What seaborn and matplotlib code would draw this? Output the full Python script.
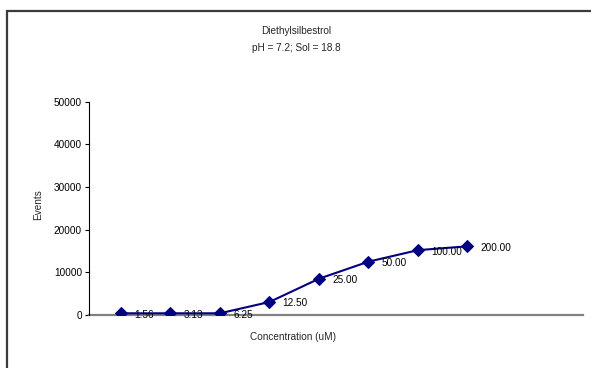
import numpy as np
import pandas as pd
import seaborn as sns
import matplotlib
matplotlib.use("Agg")
from matplotlib import pyplot as plt
from matplotlib.patches import Rectangle

# data
concentrations = ["1.56", "3.13", "6.25", "12.50", "25.00", "50.00", "100.00", "200.00"]
events = [400, 400, 400, 3050, 8500, 12500, 15200, 16100]
y_ticks = [0, 10000, 20000, 30000, 40000, 50000]

title_lines = ["Diethylsilbestrol", "pH = 7.2; Sol = 18.8"]
x_label = "Concentration (uM)"
y_label = "Events"

W, H = 591, 368
DPI = 100

sns.set_style("white")
plt.rcParams["font.family"] = ["Liberation Sans", "DejaVu Sans"]

df = pd.DataFrame({"pos": np.arange(len(concentrations)), "events": events,
                   "conc": concentrations})

fig = plt.figure(figsize=(W / DPI, H / DPI), dpi=DPI)
fig.patch.set_facecolor("white")


def px(x, y):
    # pixel coordinates (from top-left) -> figure fraction
    return x / W, 1 - y / H


left, top = px(89, 101.7)
right, bottom = px(582.7, 315)
ax = fig.add_axes([left, bottom, right - left, top - bottom])

sns.lineplot(
    data=df, x="pos", y="events", ax=ax,
    color="#000080", linewidth=1.5,
    marker="D", markersize=6.3, markeredgecolor="#000080",
)

for _, row in df.iterrows():
    ax.annotate(
        row["conc"], (row["pos"], row["events"]),
        xytext=(9.5, -1), textcoords="offset points",
        ha="left", va="center", fontsize=7.2, color="black",
    )

ax.set_xlim(-0.646, 9.33)
ax.set_ylim(0, 50000)
ax.set_yticks(y_ticks)
ax.set_yticklabels([str(t) for t in y_ticks], fontsize=7.2)
ax.set_xticks([])
ax.set_xlabel("")
ax.set_ylabel("")
ax.tick_params(axis="y", direction="out", length=3, width=0.8, pad=2,
               left=True, colors="black")

for s in ["top", "right"]:
    ax.spines[s].set_visible(False)
ax.spines["left"].set_color("black")
ax.spines["left"].set_linewidth(0.8)
ax.spines["bottom"].set_color("#808080")
ax.spines["bottom"].set_linewidth(1.6)
ax.spines["bottom"].set_zorder(1)

fig.text(*px(296, 31), title_lines[0], ha="center", va="center", fontsize=7.2)
fig.text(*px(296, 48), title_lines[1], ha="center", va="center", fontsize=7.2)
fig.text(*px(293, 337), x_label, ha="center", va="center", fontsize=7.2)
fig.text(*px(38, 205), y_label, ha="center", va="center", fontsize=7.2,
         rotation=90)

# outer chart-area border (cropped at right and bottom like the reference)
bx, by = px(6.5, 10.5)
fig.patches.append(Rectangle((bx, -0.2), 1.2, by + 0.2,
                             transform=fig.transFigure, fill=False,
                             edgecolor="#3a3a3a", linewidth=1.6))

fig.savefig("out.png", dpi=DPI)
